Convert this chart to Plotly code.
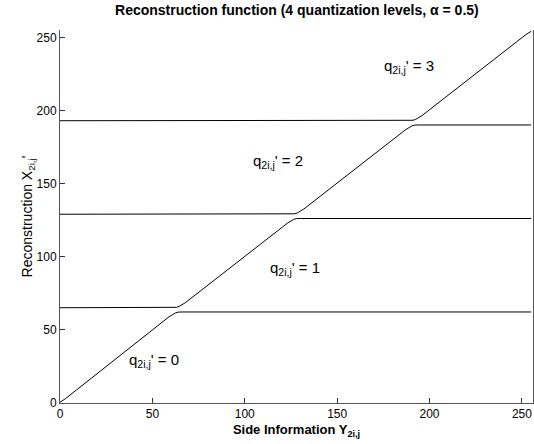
import plotly.graph_objects as go

# Side information Y (x) and reconstruction X' (y) for each quantization index
q0_x = [0, 1, 3, 59, 61, 62.5, 64, 66, 255]
q0_y = [0.5, 1.3, 3, 59, 60.8, 61.7, 62.2, 62.3, 62.3]

q1_x = [0, 61, 63, 64.5, 66, 68, 123, 125, 126.5, 128, 130, 255]
q1_y = [65.2, 65.2, 65.5, 66.1, 67.2, 68.8, 123, 124.8, 125.7, 126.2, 126.3, 126.3]

q2_x = [0, 125, 127, 128.5, 130, 132, 187, 189, 190.5, 192, 194, 255]
q2_y = [129.2, 129.2, 129.5, 130.1, 131.2, 132.8, 187, 188.8, 189.7, 190.2, 190.3, 190.3]

q3_x = [0, 189, 191, 192.5, 194, 196, 252, 254, 255]
q3_y = [193.2, 193.2, 193.5, 194.1, 195.2, 196.8, 252, 253.6, 254.4]

labels = ["q<sub>2i,j</sub>' = 0", "q<sub>2i,j</sub>' = 1", "q<sub>2i,j</sub>' = 2", "q<sub>2i,j</sub>' = 3"]
label_x = [51, 127, 118, 189]
label_y = [29, 92, 165, 230]

x_ticks = [0, 50, 100, 150, 200, 250]
y_ticks = [0, 50, 100, 150, 200, 250]

fig = go.Figure()
for xs, ys in [(q0_x, q0_y), (q1_x, q1_y), (q2_x, q2_y), (q3_x, q3_y)]:
    fig.add_trace(go.Scatter(x=xs, y=ys, mode="lines",
                             line=dict(color="black", width=1),
                             showlegend=False, hoverinfo="skip"))

for t, lx, ly in zip(labels, label_x, label_y):
    fig.add_annotation(x=lx, y=ly, text=t, showarrow=False,
                       font=dict(family="Liberation Sans", size=15, color="black"))

fig.update_layout(
    width=534, height=444,
    margin=dict(l=60, r=1, t=30, b=41),
    paper_bgcolor="white", plot_bgcolor="white",
    font=dict(family="Liberation Sans", size=12, color="black"),
    title=dict(text="<b>Reconstruction function (4 quantization levels, α = 0.5)</b>",
               x=0.556, xanchor="center", y=0.977, yanchor="middle",
               font=dict(family="Liberation Sans", size=14, color="black")),
)
fig.update_xaxes(range=[0, 256], tickvals=x_ticks, ticks="inside", ticklen=5,
                 tickcolor="#333", showline=True, linecolor="#555", linewidth=1,
                 showgrid=False, zeroline=False, mirror=False, automargin=False,
                 title=dict(text="<b>Side Information Y<sub>2i,j</sub></b>",
                            font=dict(size=13), standoff=4))
fig.update_yaxes(range=[0, 255.3], tickvals=y_ticks, ticks="inside", ticklen=5,
                 tickcolor="#333", showline=True, linecolor="#555", linewidth=1,
                 showgrid=False, zeroline=False, mirror=True, automargin=False,
                 title=dict(text="Reconstruction X<sub>2i,j</sub>'",
                            font=dict(size=14), standoff=0))

fig.write_html("out.html", config={"displayModeBar": False},
               post_script="document.body.style.margin='0';document.body.style.overflow='hidden';")
